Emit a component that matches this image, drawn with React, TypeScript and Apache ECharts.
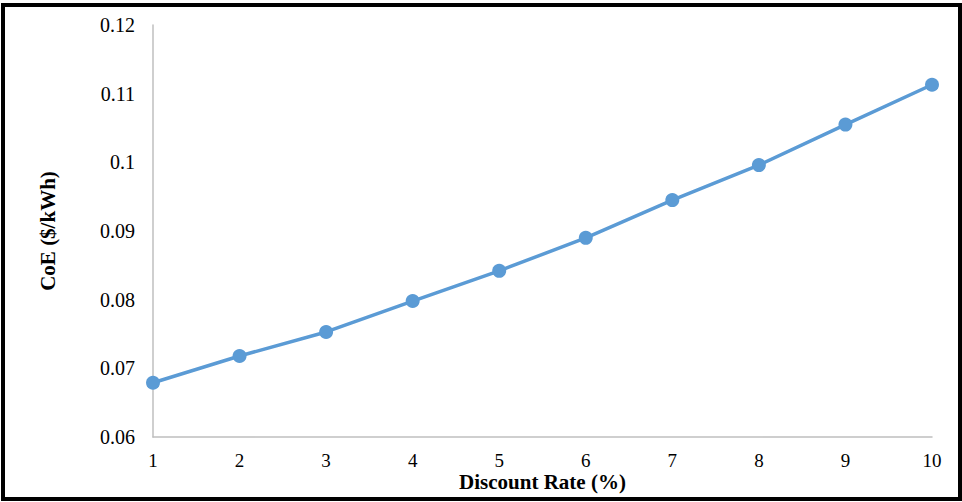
import React, { useEffect, useRef } from "react";
import * as echarts from "echarts";

const discountRates = [1, 2, 3, 4, 5, 6, 7, 8, 9, 10];
const coeValues = [0.0679, 0.0718, 0.0753, 0.0798, 0.0842, 0.089, 0.0945, 0.0996, 0.1055, 0.1113];
const xAxisTitle = "Discount Rate (%)";
const yAxisTitle = "CoE ($/kWh)";

const FONT = "'Liberation Serif', 'Times New Roman', serif";

export default function App() {
  const ref = useRef<HTMLDivElement>(null);
  useEffect(() => {
    if (!ref.current) return;
    const chart = echarts.init(ref.current, undefined, { renderer: "svg" });
    chart.setOption({
      animation: false,
      backgroundColor: "#ffffff",
      grid: { left: 153, right: 30, top: 25, bottom: 65, containLabel: false },
      graphic: [
        {
          type: "rect",
          shape: { x: 3, y: 5, width: 957, height: 494 },
          style: { fill: "none", stroke: "#000000", lineWidth: 4 },
          silent: true,
        },
      ],
      xAxis: {
        type: "value",
        min: 1,
        max: 10,
        interval: 1,
        name: xAxisTitle,
        nameLocation: "middle",
        nameGap: 34,
        nameMoveOverlap: false,
        nameTextStyle: { fontFamily: FONT, fontSize: 21, fontWeight: "bold", color: "#000" },
        axisLine: { show: true, lineStyle: { color: "#BFBFBF", width: 1.5 } },
        axisTick: { show: false },
        splitLine: { show: false },
        axisLabel: { fontFamily: FONT, fontSize: 19, color: "#000", margin: 14 },
      },
      yAxis: {
        type: "value",
        min: 0.06,
        max: 0.12,
        interval: 0.01,
        name: yAxisTitle,
        nameLocation: "middle",
        nameGap: 95,
        nameMoveOverlap: false,
        nameRotate: 90,
        nameTextStyle: { fontFamily: FONT, fontSize: 21, fontWeight: "bold", color: "#000" },
        axisLine: { show: true, lineStyle: { color: "#BFBFBF", width: 1.5 } },
        axisTick: { show: false },
        splitLine: { show: false },
        axisLabel: {
          fontFamily: FONT,
          fontSize: 20,
          color: "#000",
          margin: 18,
          formatter: (v: number) => String(parseFloat(v.toFixed(2))),
        },
      },
      series: [
        {
          type: "line",
          data: discountRates.map((x, i) => [x, coeValues[i]]),
          symbol: "circle",
          symbolSize: 14,
          lineStyle: { color: "#5B9BD5", width: 3.5 },
          itemStyle: { color: "#5B9BD5" },
        },
      ],
    });
    return () => chart.dispose();
  }, []);
  return (
    <div
      ref={ref}
      style={{ position: "fixed", left: 0, top: 0, width: 962, height: 502, background: "#fff" }}
    />
  );
}
